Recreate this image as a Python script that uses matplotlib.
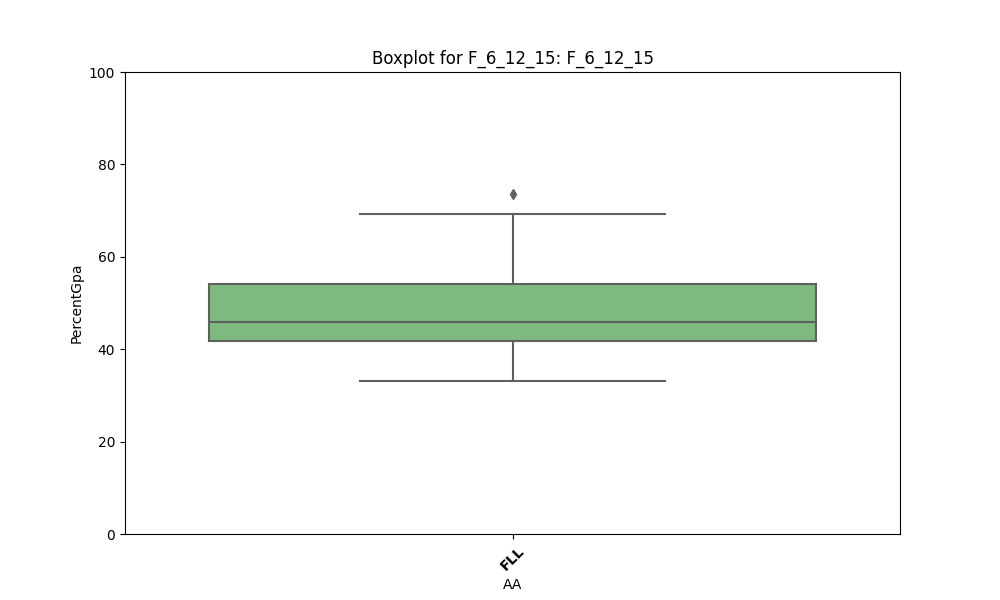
import matplotlib
matplotlib.use("Agg")
import matplotlib.pyplot as plt

categories = ["FLL"]
q1 = [41.8]
median = [45.95]
q3 = [54.1]
whisker_low = [33.2]
whisker_high = [69.3]
outliers = [[73.5]]

stats = []
for i, c in enumerate(categories):
    stats.append(dict(label=c, q1=q1[i], med=median[i], q3=q3[i],
                      whislo=whisker_low[i], whishi=whisker_high[i],
                      fliers=outliers[i]))

fig, ax = plt.subplots(figsize=(10, 6), dpi=100)
edge = "#5f5f5f"
ax.bxp(stats, positions=list(range(len(categories))), widths=0.784,
       patch_artist=True, showfliers=True,
       boxprops=dict(facecolor="#7eba7e", edgecolor=edge, linewidth=1.5),
       medianprops=dict(color=edge, linewidth=1.5),
       whiskerprops=dict(color=edge, linewidth=1.5),
       capprops=dict(color=edge, linewidth=1.5),
       capwidths=0.394,
       flierprops=dict(marker="d", markerfacecolor=edge, markeredgecolor=edge,
                       markersize=5))
ax.set_xlim(-0.5, len(categories) - 0.5)
ax.set_ylim(0, 100)
ax.set_xticks(range(len(categories)))
ax.set_xticklabels(categories, rotation=45, fontweight="bold")
ax.set_xlabel("AA")
ax.set_ylabel("PercentGpa")
ax.set_title("Boxplot for F_6_12_15: F_6_12_15")
fig.savefig("out.png", dpi=100)
